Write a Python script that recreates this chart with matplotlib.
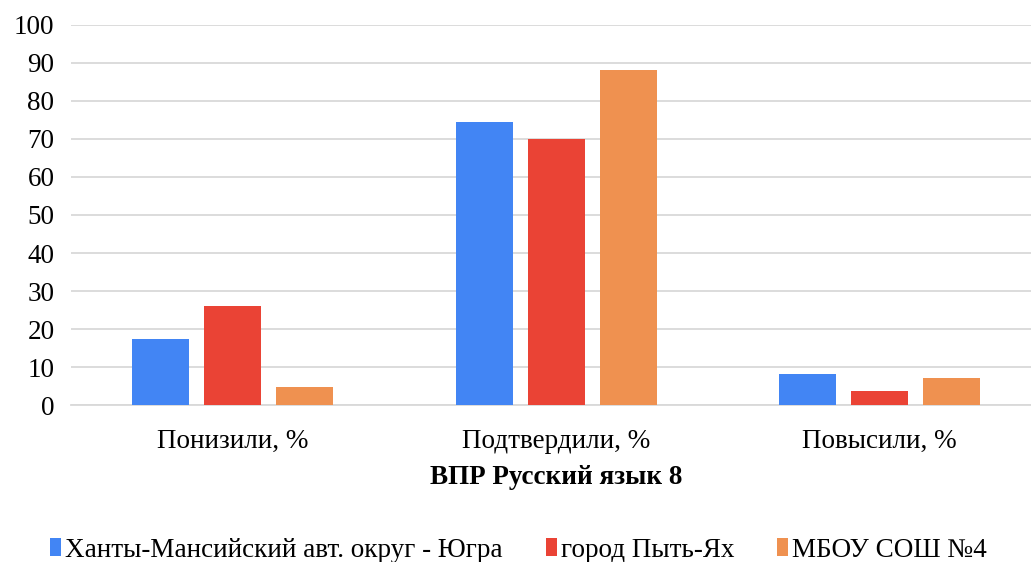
import numpy as np
import matplotlib.pyplot as plt

plt.rcParams['font.family'] = ['Liberation Serif', 'DejaVu Serif']

categories = ['Понизили, %', 'Подтвердили, %', 'Повысили, %']
series_names = ['Ханты-Мансийский авт. округ - Югра', 'город Пыть-Ях', 'МБОУ СОШ №4']
ugra = [17.3, 74.4, 8.2]
pytyah = [26.2, 70.0, 3.7]
school = [4.7, 88.0, 7.1]
colors = ['#4285f4', '#ea4335', '#ef9150']

fig = plt.figure(figsize=(10.31, 5.62), dpi=100)
ax = fig.add_axes([0.069, 0.279, 0.941, 0.677])

x = np.arange(len(categories))
width = 0.176
step = 0.223
for i, (vals, name, c) in enumerate(zip([ugra, pytyah, school], series_names, colors)):
    ax.bar(x + (i - 1) * step, vals, width, color=c, label=name, zorder=3)

ax.set_xlim(-0.5, 2.5)
ax.set_ylim(0, 100)
ax.set_yticks(range(0, 101, 10))
ax.yaxis.grid(True, color='#d9d9d9', linewidth=1.3, zorder=0)
ax.set_xticks(x)
ax.set_xticklabels(categories, fontsize=19.5)
ax.tick_params(axis='y', labelsize=19.5, length=0, pad=12)
ax.tick_params(axis='x', length=0, pad=17)
for s in ['top', 'right', 'left']:
    ax.spines[s].set_visible(False)
ax.spines['bottom'].set_color('#d9d9d9')
ax.spines['bottom'].set_linewidth(1.3)

ax.set_xlabel('ВПР Русский язык 8', fontsize=19.5, fontweight='bold', labelpad=8)

fig.legend(loc='lower center', bbox_to_anchor=(0.503, -0.045), ncol=3, frameon=False,
           fontsize=19.5, handlelength=0.4, handleheight=0.65, handletextpad=0.15,
           columnspacing=1.6)

plt.savefig('out.png', dpi=100)
plt.close()
